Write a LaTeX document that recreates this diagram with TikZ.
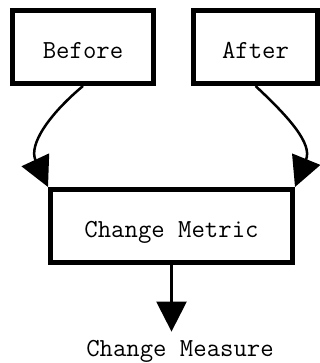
\documentclass[tikz,border=0pt]{standalone}
\usepackage{fontspec}
\usetikzlibrary{arrows.meta,positioning}

\begin{document}
\begin{tikzpicture}[
    x=1pt, y=1pt,
    stepbox/.style = {draw=black, line width=5pt, rectangle, minimum height=73pt, inner sep=0pt,
                      font=\ttfamily\fontsize{26}{30}\selectfont, text height=24pt, text depth=0pt},
    outlbl/.style  = {font=\ttfamily\fontsize{26}{30}\selectfont, inner xsep=0pt, inner ysep=9pt, anchor=base},
    flow/.style    = {-{Triangle[length=30pt,width=30pt]}, line width=2.5pt, black}
  ]
  \useasboundingbox (0,0) rectangle (320,363);

  \node[stepbox, minimum width=141pt] (before) at (83,316)    {Before};
  \node[stepbox, minimum width=124pt] (after)  at (255.5,316) {After};
  \node[stepbox, minimum width=242pt] (metric) at (171.5,137) {Change Metric};
  \node[outlbl] (measure) at (180,6) {Change Measure};

  \draw[flow] (before.south) to[out=220, in=115, looseness=1.1] (metric.north west);
  \draw[flow] (after.south)  to[out=-43, in=68, looseness=1.1]  (metric.north east);
  \draw[flow] (metric.south) -- (metric.south |- measure.north);
\end{tikzpicture}
\end{document}
